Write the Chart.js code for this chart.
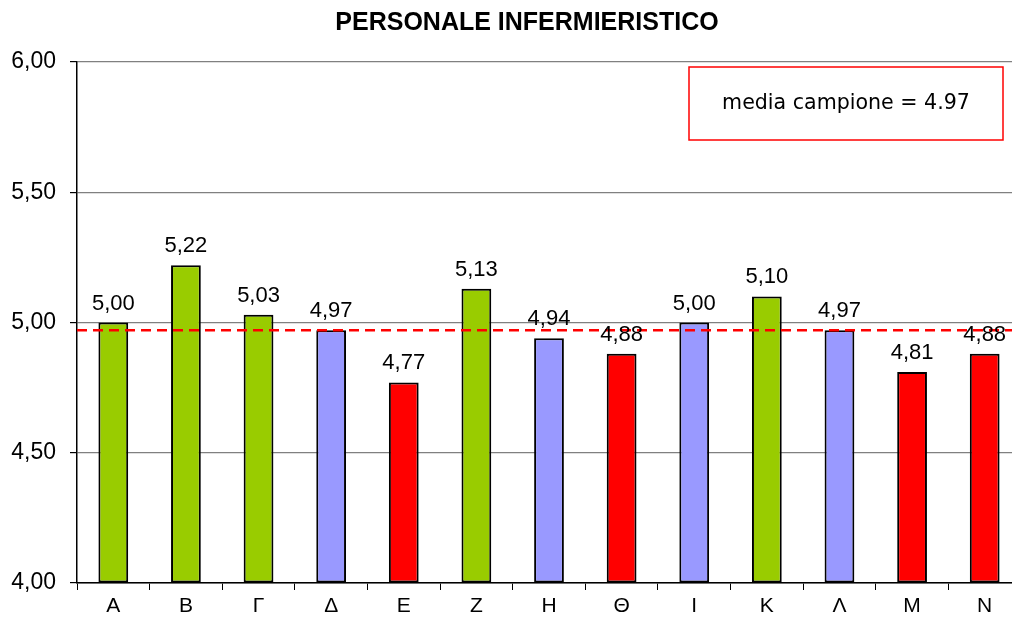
<!DOCTYPE html>
<html>
<head>
<meta charset="utf-8">
<script src="https://cdn.jsdelivr.net/npm/chart.js@4.4.1/dist/chart.umd.min.js"></script>
<style>
  html, body { margin: 0; padding: 0; background: #fff; overflow: hidden; }
  #wrap { width: 1021px; height: 618px; }
</style>
</head>
<body>
<div id="wrap"><canvas id="chart"></canvas></div>
<script>
// reparti (lettere greche) e punteggi medi
const categories = ['Α', 'Β', 'Γ', 'Δ', 'Ε', 'Ζ', 'Η', 'Θ', 'Ι', 'Κ', 'Λ', 'Μ', 'Ν'];
const scores = [5.00, 5.22, 5.03, 4.97, 4.77, 5.13, 4.94, 4.88, 5.00, 5.10, 4.97, 4.81, 4.88];
// fascia di ogni reparto: 'alto' verde, 'medio' lilla, 'basso' rosso
const bands = ['alto', 'alto', 'alto', 'medio', 'basso', 'alto', 'medio', 'basso', 'medio', 'alto', 'medio', 'basso', 'basso'];
const meanValue = 4.97;
const yTicks = [4.00, 4.50, 5.00, 5.50, 6.00];
const chartTitle = 'PERSONALE INFERMIERISTICO';

const bandColors = { alto: '#99CC00', medio: '#9999FF', basso: '#FF0000' };
const fmt = v => v.toFixed(2).replace('.', ',');
const FONT = '"Liberation Sans", Arial, sans-serif';

// titolo, linea tratteggiata della media e riquadro con il valore
const meanPlugin = {
    id: 'meanLine',
    afterDatasetsDraw(chart) {
        const ctx = chart.ctx;
        const area = chart.chartArea;
        const y = chart.scales.y.getPixelForValue(meanValue);
        ctx.save();

        ctx.font = 'bold 25px ' + FONT;
        ctx.fillStyle = '#000';
        ctx.textAlign = 'center';
        ctx.textBaseline = 'middle';
        ctx.fillText(chartTitle, 527, 23);

        ctx.strokeStyle = '#FF0000';
        ctx.lineWidth = 2.5;
        ctx.setLineDash([10, 6]);
        ctx.beginPath();
        ctx.moveTo(area.left, y);
        ctx.lineTo(1012, y);
        ctx.stroke();
        ctx.setLineDash([]);

        // riquadro legenda
        ctx.fillStyle = '#fff';
        ctx.fillRect(689, 67, 314, 73);
        ctx.strokeStyle = '#FF0000';
        ctx.lineWidth = 1.5;
        ctx.strokeRect(689, 67, 314, 73);
        const text = 'media campione = ' + meanValue.toFixed(2);
        let size = 20;
        ctx.font = size + 'px "DejaVu Sans"';
        size = size * 248 / ctx.measureText(text).width;
        ctx.font = size + 'px "DejaVu Sans"';
        ctx.fillStyle = '#000';
        ctx.fillText(text, 846, 104);
        ctx.restore();
    }
};

// valori sopra le barre
const valueLabels = {
    id: 'valueLabels',
    afterDatasetsDraw(chart) {
        const ctx = chart.ctx;
        const meta = chart.getDatasetMeta(0);
        ctx.save();
        ctx.font = '22px ' + FONT;
        ctx.fillStyle = '#000';
        ctx.textAlign = 'center';
        ctx.textBaseline = 'alphabetic';
        meta.data.forEach((bar, i) => {
            ctx.fillText(fmt(scores[i]), bar.x, bar.y - 13);
        });
        ctx.restore();
    }
};

const chart = new Chart(document.getElementById('chart'), {
    type: 'bar',
    data: {
        labels: categories,
        datasets: [{
            data: scores,
            backgroundColor: bands.map(b => bandColors[b]),
            borderColor: '#000',
            borderWidth: 2,
            borderSkipped: false,
            categoryPercentage: 0.82,
            barPercentage: 0.5,
            base: 4
        }]
    },
    options: {
        responsive: true,
        maintainAspectRatio: false,
        animation: false,
        layout: { padding: { top: 62 } },
        plugins: {
            legend: { display: false },
            tooltip: { enabled: false },
            title: { display: false }
        },
        scales: {
            x: {
                offset: true,
                grid: {
                    offset: true,
                    drawOnChartArea: false,
                    drawTicks: true,
                    tickLength: 7,
                    color: '#000'
                },
                border: { color: '#000', width: 1.5 },
                ticks: {
                    color: '#000',
                    padding: 4,
                    font: { family: FONT, size: 21 }
                },
                afterFit(scale) { scale.height = 35; }
            },
            y: {
                min: 4,
                max: 6,
                afterBuildTicks(scale) { scale.ticks = yTicks.map(v => ({ value: v })); },
                grid: {
                    color: '#808080',
                    lineWidth: 1.2,
                    tickColor: '#000',
                    tickLength: 7
                },
                border: { color: '#000', width: 1.5 },
                ticks: {
                    color: '#000',
                    padding: 14,
                    callback: v => fmt(v),
                    font: { family: FONT, size: 23 }
                },
                afterFit(scale) { scale.width = 77; }
            }
        }
    },
    plugins: [meanPlugin, valueLabels]
});
</script>
</body>
</html>
